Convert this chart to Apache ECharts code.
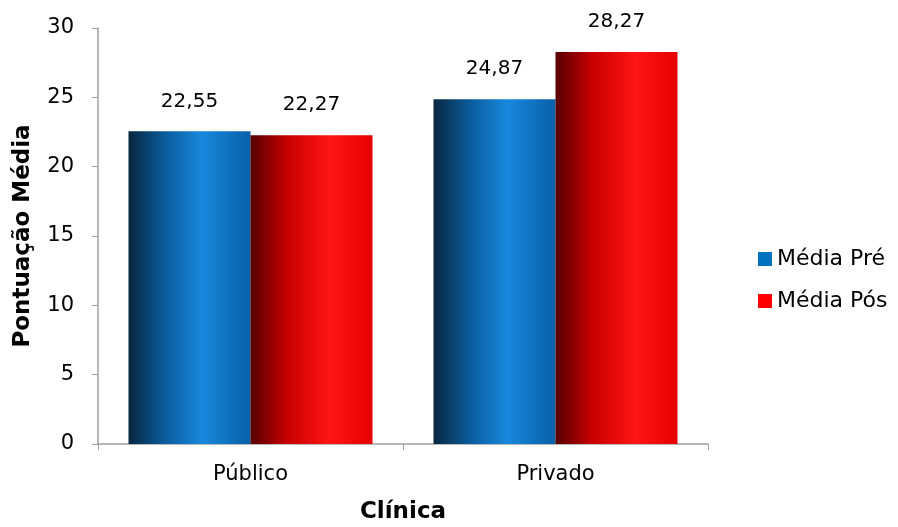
<!DOCTYPE html>
<html><head><meta charset="utf-8">
<script src="https://cdn.jsdelivr.net/npm/echarts@6/dist/echarts.min.js"></script>
<style>html,body{margin:0;padding:0;background:#fff}#c{width:898px;height:527px}</style>
</head><body><div id="c"></div>
<script>
const categories = ['Público', 'Privado'];
const seriesNames = ['Média Pré', 'Média Pós'];
const valuesPre = [22.55, 24.87];
const valuesPos = [22.27, 28.27];
const yTitle = 'Pontuação Média';
const xTitle = 'Clínica';

const font = 'DejaVu Sans, Verdana, sans-serif';
const blueGrad = new echarts.graphic.LinearGradient(0,0,1,0,[
  {offset:0,color:'#082640'},{offset:0.3,color:'#0a5c9c'},{offset:0.6,color:'#1888dc'},{offset:1,color:'#0760a8'}]);
const redGrad = new echarts.graphic.LinearGradient(0,0,1,0,[
  {offset:0,color:'#560000'},{offset:0.3,color:'#c80000'},{offset:0.65,color:'#ff1414'},{offset:1,color:'#e60000'}]);
const fmt = p => p.value.toFixed(2).replace('.', ',');
const chart = echarts.init(document.getElementById('c'));
chart.setOption({
  animation:false,
  textStyle:{fontFamily:font},
  grid:{left:98,top:28,right:190,bottom:83,containLabel:false,outerBoundsMode:'none'},
  legend:{orient:'vertical',left:753,top:243,itemWidth:14,itemHeight:14,itemGap:20,icon:'rect',
    textStyle:{fontSize:22,color:'#000',fontFamily:font},
    data:[{name:seriesNames[0],itemStyle:{color:'#0070c0'}},{name:seriesNames[1],itemStyle:{color:'#ff0000'}}]},
  xAxis:{type:'category',data:categories,
    name:xTitle,nameLocation:'middle',nameGap:57,
    nameTextStyle:{fontSize:23,fontWeight:'bold',color:'#000',fontFamily:font},
    axisLine:{lineStyle:{color:'#a0a0a0',width:1.5}},
    axisTick:{show:true,length:6,lineStyle:{color:'#a0a0a0'}},
    axisLabel:{fontSize:21,color:'#000',margin:20,fontFamily:font}},
  yAxis:{type:'value',min:0,max:30,interval:5,
    name:yTitle,nameLocation:'middle',nameGap:63,
    nameTextStyle:{fontSize:23,fontWeight:'bold',color:'#000',fontFamily:font},
    axisLine:{show:true,lineStyle:{color:'#a0a0a0',width:1.5}},
    axisTick:{show:true,length:6,lineStyle:{color:'#a0a0a0'}},
    splitLine:{show:false},
    axisLabel:{fontSize:21,color:'#000',margin:24,fontFamily:font}},
  series:[
    {name:seriesNames[0],type:'bar',data:valuesPre,barWidth:122,barGap:'0%',
     itemStyle:{color:blueGrad},
     label:{show:true,position:'top',distance:20,fontSize:20,color:'#000',formatter:fmt,fontFamily:font}},
    {name:seriesNames[1],type:'bar',data:valuesPos,barWidth:122,barGap:'0%',
     itemStyle:{color:redGrad},
     label:{show:true,position:'top',distance:20,fontSize:20,color:'#000',formatter:fmt,fontFamily:font}}
  ]
});
</script></body></html>
